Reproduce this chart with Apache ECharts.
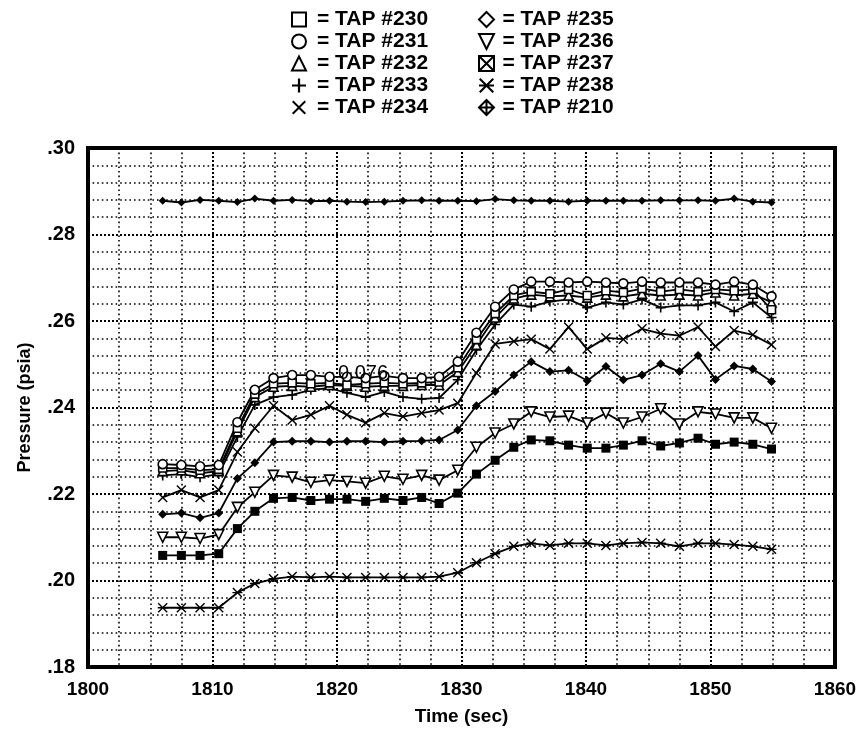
<!DOCTYPE html>
<html>
<head>
<meta charset="utf-8">
<script src="https://cdn.jsdelivr.net/npm/echarts@6/dist/echarts.min.js"></script>
<style>
  html, body { margin: 0; padding: 0; background: #fff; }
  #chart { width: 862px; height: 735px; }
</style>
</head>
<body>
<div id="chart"></div>
<script>
// sample times (sec)
var times = [1806.0, 1807.5, 1809.0, 1810.5, 1812.0, 1813.4, 1814.9, 1816.4, 1817.9, 1819.4,
  1820.8, 1822.3, 1823.8, 1825.3, 1826.8, 1828.2, 1829.7, 1831.2, 1832.7, 1834.2,
  1835.6, 1837.1, 1838.6, 1840.1, 1841.6, 1843.0, 1844.5, 1846.0, 1847.5, 1849.0,
  1850.4, 1851.9, 1853.4, 1854.9];

// pressures (psia) per tap
var tap230 = [.2260, .2260, .2255, .2257, .2352, .2431, .2455, .2457, .2455, .2457,
  .2452, .2455, .2457, .2455, .2457, .2459, .2492, .2557, .2617, .2659,
  .2668, .2663, .2673, .2659, .2670, .2666, .2675, .2668, .2673, .2668,
  .2673, .2670, .2673, .2626];
var tap231 = [.2269, .2267, .2264, .2267, .2366, .2441, .2468, .2475, .2475, .2471,
  .2471, .2468, .2473, .2468, .2468, .2471, .2506, .2573, .2633, .2673,
  .2691, .2691, .2689, .2691, .2689, .2687, .2691, .2689, .2689, .2689,
  .2684, .2691, .2684, .2657];
var tap232 = [.2253, .2255, .2248, .2253, .2345, .2424, .2448, .2450, .2448, .2452,
  .2450, .2448, .2450, .2450, .2452, .2452, .2482, .2545, .2608, .2652,
  .2661, .2657, .2659, .2654, .2661, .2657, .2663, .2659, .2661, .2659,
  .2666, .2659, .2663, .2643];
var tap233 = [.2243, .2246, .2239, .2246, .2332, .2406, .2424, .2429, .2441, .2445,
  .2434, .2424, .2436, .2424, .2420, .2422, .2464, .2533, .2592, .2638,
  .2633, .2645, .2650, .2631, .2643, .2638, .2650, .2631, .2636, .2636,
  .2643, .2622, .2643, .2608];
var tap234 = [.2192, .2209, .2192, .2209, .2297, .2352, .2404, .2371, .2383, .2404,
  .2383, .2365, .2387, .2379, .2387, .2394, .2410, .2480, .2547, .2553,
  .2558, .2535, .2586, .2535, .2561, .2558, .2582, .2571, .2566, .2586,
  .2541, .2578, .2568, .2545];
var tap235 = [.2153, .2156, .2145, .2156, .2236, .2272, .2320, .2322, .2322, .2320,
  .2322, .2322, .2320, .2322, .2323, .2325, .2348, .2404, .2437, .2475,
  .2506, .2483, .2486, .2462, .2495, .2464, .2475, .2501, .2483, .2520,
  .2465, .2496, .2489, .2460];
var tap236 = [.2100, .2100, .2097, .2106, .2169, .2204, .2243, .2239, .2227, .2232,
  .2229, .2225, .2241, .2234, .2243, .2232, .2255, .2308, .2341, .2362,
  .2390, .2378, .2380, .2364, .2387, .2364, .2378, .2397, .2362, .2390,
  .2385, .2376, .2376, .2352];
var tap237 = [.2058, .2058, .2058, .2062, .2120, .2160, .2190, .2192, .2185, .2188,
  .2188, .2183, .2190, .2185, .2192, .2178, .2202, .2246, .2278, .2308,
  .2325, .2323, .2313, .2306, .2306, .2313, .2323, .2311, .2318, .2329,
  .2315, .2320, .2315, .2304];
var tap238 = [.1937, .1937, .1937, .1937, .1972, .1993, .2004, .2009, .2007, .2009,
  .2007, .2007, .2007, .2007, .2007, .2009, .2018, .2041, .2062, .2079,
  .2086, .2081, .2086, .2086, .2081, .2086, .2088, .2086, .2079, .2086,
  .2086, .2083, .2079, .2072];
var tap210 = [.2878, .2874, .2880, .2878, .2875, .2883, .2878, .2880, .2877, .2878,
  .2876, .2875, .2876, .2878, .2879, .2878, .2878, .2877, .2882, .2879,
  .2878, .2878, .2876, .2878, .2878, .2878, .2878, .2879, .2879, .2879,
  .2878, .2883, .2876, .2874];

var xTicks = [1800, 1810, 1820, 1830, 1840, 1850, 1860];
var yTicks = [.18, .20, .22, .24, .26, .28, .30];

// marker shapes (square boxes so the legend keeps them undistorted)
var SQUARE = 'path://M0,0H10V10H0Z';
var CIRCLE = 'path://M5,0A5,5 0 1 1 5,10A5,5 0 1 1 5,0Z';
var TRI_UP = 'path://M5,0L10,10L0,10Z';
var DIAMOND = 'path://M5,0L10,5L5,10L0,5Z';
var PLUS = 'path://M4.2,0H5.8V4.2H10V5.8H5.8V10H4.2V5.8H0V4.2H4.2Z';
var CROSS = 'path://M0,1L1,0L5,4L9,0L10,1L6,5L10,9L9,10L5,6L1,10L0,9L4,5Z';
var STAR = 'path://M0,1L1,0L5,4L9,0L10,1L6,5L10,9L9,10L5,6L1,10L0,9L4,5Z M0,4.3H10V5.7H0Z';
var TRI_DOWN = 'path://M0,0L10,0L5,10Z';
var BOX_X = 'path://M0,0H10V10H0Z M0,0L10,10 M10,0L0,10';
var DIA_PLUS = 'path://M5,0L10,5L5,10L0,5Z M5,0V10 M0,5H10';

function pairs(vals) {
  return vals.map(function (v, i) { return [times[i], v]; });
}

var hollow = { color: '#fff', borderColor: '#000', borderWidth: 1.6 };
var solid = { color: '#000', borderWidth: 0 };
var open = { color: '#fff', borderColor: '#000', borderWidth: 2 };

function line(name, vals, symbol, size, style) {
  return {
    name: name,
    type: 'line',
    data: pairs(vals),
    symbol: symbol,
    symbolSize: size,
    showSymbol: true,
    lineStyle: { color: '#000', width: 1.8 },
    itemStyle: style,
    emphasis: { disabled: true },
    z: 3
  };
}

var font = 'Liberation Sans, Arial, sans-serif';
var legendText = { fontFamily: font, fontWeight: 'bold', fontSize: 21, color: '#000' };

var chart = echarts.init(document.getElementById('chart'), null, { renderer: 'canvas' });

var option = {
  animation: false,
  backgroundColor: '#fff',
  grid: { left: 88, right: 27, top: 148, bottom: 68, show: true, borderColor: '#000', borderWidth: 4, backgroundColor: 'transparent', z: 4 },
  legend: [
    {
      orient: 'vertical', left: 286, top: 4, itemWidth: 26, itemHeight: 14, itemGap: 1,
      selectedMode: false, formatter: '= {name}', textStyle: legendText,
      data: [
        { name: 'TAP #230', icon: SQUARE, itemStyle: open },
        { name: 'TAP #231', icon: CIRCLE, itemStyle: open },
        { name: 'TAP #232', icon: TRI_UP, itemStyle: open },
        { name: 'TAP #233', icon: PLUS, itemStyle: solid },
        { name: 'TAP #234', icon: CROSS, itemStyle: solid }
      ]
    },
    {
      orient: 'vertical', left: 473, top: 4, itemWidth: 22, itemHeight: 15, itemGap: 1,
      selectedMode: false, formatter: '= {name}', textStyle: legendText,
      data: [
        { name: 'TAP #235', icon: DIAMOND, itemStyle: open },
        { name: 'TAP #236', icon: TRI_DOWN, itemStyle: open },
        { name: 'TAP #237', icon: BOX_X, itemStyle: open },
        { name: 'TAP #238', icon: STAR, itemStyle: solid },
        { name: 'TAP #210', icon: DIA_PLUS, itemStyle: open }
      ]
    }
  ],
  xAxis: {
    type: 'value', min: xTicks[0], max: xTicks[xTicks.length - 1], interval: 10,
    name: 'Time (sec)', nameLocation: 'middle', nameGap: 40,
    nameTextStyle: { fontFamily: font, fontWeight: 'bold', fontSize: 19, color: '#000' },
    axisLine: { show: false }, axisTick: { show: false },
    axisLabel: {
      margin: 13, fontFamily: font, fontWeight: 'bold', fontSize: 19, color: '#000',
      formatter: function (v) { return String(v); }
    },
    splitLine: { show: true, lineStyle: { color: '#000', width: 2, type: [2, 2] } },
    minorTick: { show: false, splitNumber: 4 },
    minorSplitLine: { show: true, lineStyle: { color: '#000', width: 1.6, type: [1.6, 3] } }
  },
  yAxis: {
    type: 'value', min: yTicks[0], max: yTicks[yTicks.length - 1], interval: 0.02,
    name: 'Pressure (psia)', nameLocation: 'middle', nameGap: 54,
    nameTextStyle: { fontFamily: font, fontWeight: 'bold', fontSize: 18, color: '#000' },
    axisLine: { show: false }, axisTick: { show: false },
    axisLabel: {
      margin: 13, fontFamily: font, fontWeight: 'bold', fontSize: 20, color: '#000',
      formatter: function (v) { return v.toFixed(2).replace(/^0/, ''); }
    },
    splitLine: { show: true, lineStyle: { color: '#000', width: 2, type: [2, 2] } },
    minorTick: { show: false, splitNumber: 5 },
    minorSplitLine: { show: true, lineStyle: { color: '#000', width: 1.6, type: [1.6, 3] } }
  },
  graphic: [
    { type: 'text', left: 338, top: 363, z: 10,
      style: { text: '0.076', fontFamily: font, fontSize: 20, fill: '#000' } }
  ],
  series: [
    line('TAP #210', tap210, DIAMOND, 8, solid),
    line('TAP #238', tap238, STAR, 10, solid),
    line('TAP #237', tap237, SQUARE, 9, solid),
    line('TAP #236', tap236, TRI_DOWN, 10, hollow),
    line('TAP #235', tap235, DIAMOND, 9, solid),
    line('TAP #234', tap234, CROSS, 10, solid),
    line('TAP #233', tap233, PLUS, 10, solid),
    line('TAP #232', tap232, TRI_UP, 9, hollow),
    line('TAP #230', tap230, SQUARE, 8, hollow),
    line('TAP #231', tap231, CIRCLE, 9, hollow)
  ]
};

chart.setOption(option);
</script>
</body>
</html>
